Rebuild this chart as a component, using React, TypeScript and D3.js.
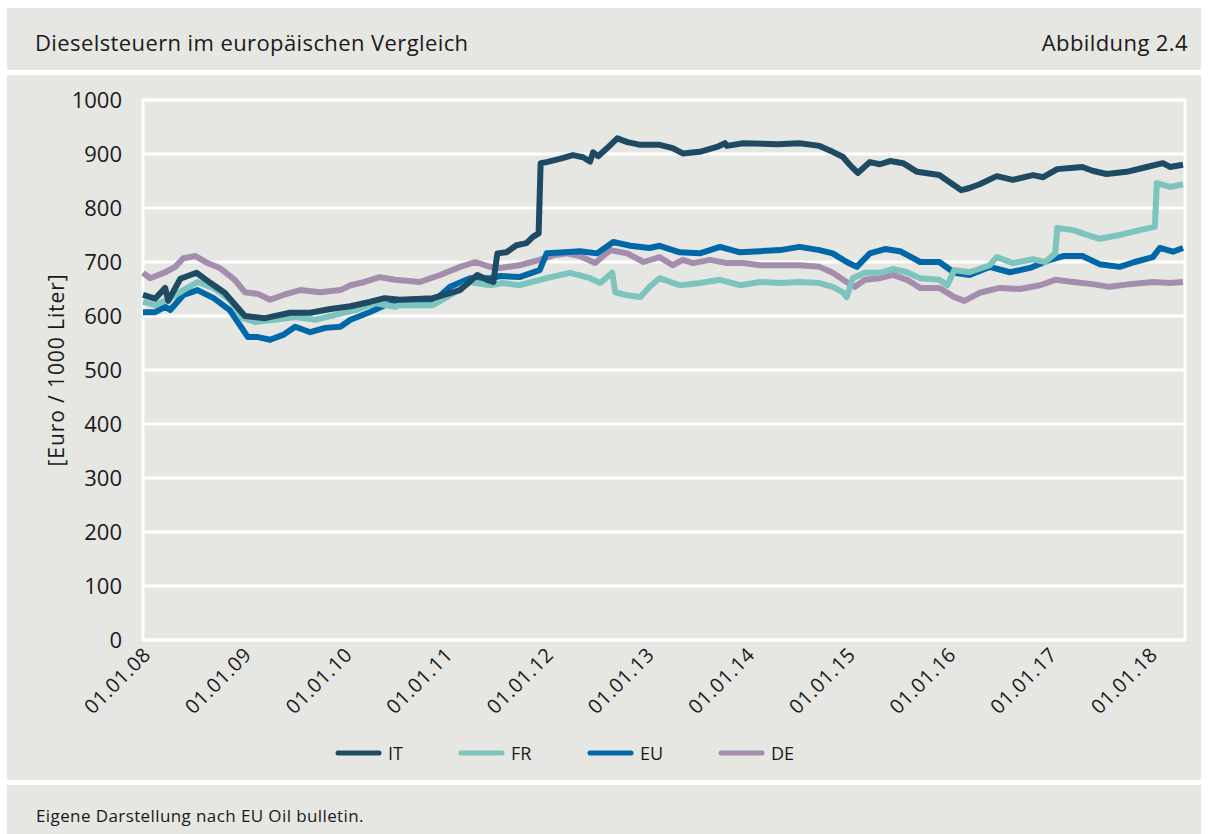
import React, { useEffect, useRef } from "react";
import * as d3 from "d3";

// decimal year, Euro / 1000 Liter
const itData: [number, number][] = [
  [2008.0, 639], [2008.12, 632], [2008.22, 652], [2008.25, 628], [2008.37, 669], [2008.53, 680],
  [2008.67, 661], [2008.81, 643], [2008.93, 617], [2009.01, 600], [2009.21, 596], [2009.46, 606],
  [2009.66, 606], [2009.86, 613], [2010.06, 618], [2010.25, 626], [2010.4, 633], [2010.55, 630],
  [2010.88, 633], [2011.15, 648], [2011.32, 676], [2011.42, 667], [2011.48, 663], [2011.52, 716],
  [2011.61, 718], [2011.71, 731], [2011.81, 735], [2011.87, 746], [2011.93, 753], [2011.95, 883],
  [2012.01, 885], [2012.14, 891], [2012.27, 898], [2012.37, 894], [2012.44, 886], [2012.47, 903],
  [2012.52, 896], [2012.61, 911], [2012.71, 929], [2012.81, 922], [2012.94, 917], [2013.13, 917],
  [2013.26, 911], [2013.36, 901], [2013.53, 904], [2013.7, 913], [2013.78, 920], [2013.8, 915],
  [2013.96, 920], [2014.3, 918], [2014.52, 920], [2014.72, 915], [2014.85, 904], [2014.95, 895],
  [2015.02, 880], [2015.1, 865], [2015.22, 885], [2015.32, 881], [2015.42, 887], [2015.55, 883],
  [2015.69, 867], [2015.91, 861], [2016.01, 848], [2016.13, 833], [2016.21, 837], [2016.31, 844],
  [2016.48, 859], [2016.64, 852], [2016.84, 861], [2016.94, 857], [2017.08, 872], [2017.21, 874],
  [2017.33, 876], [2017.43, 869], [2017.57, 863], [2017.77, 867], [2017.97, 876], [2018.13, 883],
  [2018.2, 876], [2018.33, 880]
];

const frData: [number, number][] = [
  [2008.0, 626], [2008.12, 620], [2008.27, 633], [2008.4, 648], [2008.54, 663], [2008.7, 652],
  [2008.86, 630], [2008.99, 596], [2009.11, 589], [2009.31, 593], [2009.51, 598], [2009.71, 593],
  [2009.91, 602], [2010.11, 611], [2010.3, 624], [2010.5, 617], [2010.55, 620], [2010.88, 620],
  [2011.08, 642], [2011.25, 663], [2011.45, 657], [2011.57, 661], [2011.74, 657], [2012.01, 670],
  [2012.24, 680], [2012.44, 670], [2012.54, 661], [2012.66, 680], [2012.69, 644], [2012.79, 639],
  [2012.94, 635], [2013.03, 654], [2013.13, 670], [2013.33, 657], [2013.53, 661], [2013.73, 667],
  [2013.93, 657], [2014.13, 663], [2014.33, 661], [2014.52, 663], [2014.72, 661], [2014.85, 654],
  [2014.95, 644], [2014.99, 635], [2015.05, 670], [2015.17, 680], [2015.32, 680], [2015.45, 687],
  [2015.59, 681], [2015.72, 670], [2015.91, 667], [2015.99, 657], [2016.06, 685], [2016.21, 681],
  [2016.41, 694], [2016.48, 709], [2016.64, 698], [2016.84, 705], [2016.96, 700], [2017.06, 716],
  [2017.08, 763], [2017.24, 759], [2017.33, 753], [2017.5, 743], [2017.7, 750], [2017.9, 759],
  [2018.05, 765], [2018.07, 846], [2018.2, 839], [2018.33, 844]
];

const euData: [number, number][] = [
  [2008.0, 607], [2008.12, 607], [2008.22, 617], [2008.27, 611], [2008.4, 639], [2008.54, 648],
  [2008.7, 633], [2008.86, 611], [2008.96, 583], [2009.04, 561], [2009.14, 561], [2009.26, 556],
  [2009.39, 565], [2009.51, 580], [2009.66, 570], [2009.81, 578], [2009.96, 580], [2010.06, 593],
  [2010.25, 607], [2010.4, 620], [2010.55, 624], [2010.88, 626], [2011.05, 654], [2011.25, 670],
  [2011.45, 670], [2011.55, 674], [2011.74, 672], [2011.94, 685], [2012.01, 716], [2012.19, 718],
  [2012.34, 720], [2012.51, 716], [2012.67, 737], [2012.84, 730], [2013.03, 726], [2013.13, 730],
  [2013.33, 718], [2013.53, 716], [2013.73, 728], [2013.93, 718], [2014.13, 720], [2014.33, 722],
  [2014.52, 728], [2014.72, 722], [2014.85, 716], [2014.99, 700], [2015.09, 691], [2015.22, 716],
  [2015.37, 724], [2015.52, 720], [2015.65, 707], [2015.72, 700], [2015.91, 700], [2016.06, 680],
  [2016.21, 676], [2016.41, 691], [2016.61, 681], [2016.81, 689], [2017.01, 704], [2017.14, 711],
  [2017.33, 711], [2017.5, 696], [2017.7, 691], [2017.85, 700], [2018.03, 709], [2018.1, 726],
  [2018.23, 719], [2018.33, 726]
];

const deData: [number, number][] = [
  [2008.0, 680], [2008.07, 670], [2008.22, 681], [2008.32, 691], [2008.4, 707], [2008.52, 711],
  [2008.64, 698], [2008.76, 689], [2008.91, 667], [2009.01, 644], [2009.14, 641], [2009.26, 630],
  [2009.39, 639], [2009.56, 648], [2009.76, 644], [2009.96, 648], [2010.06, 657], [2010.2, 663],
  [2010.35, 672], [2010.5, 667], [2010.75, 663], [2010.95, 676], [2011.15, 691], [2011.3, 700],
  [2011.45, 691], [2011.55, 689], [2011.74, 694], [2011.94, 704], [2012.09, 713], [2012.21, 716],
  [2012.34, 711], [2012.49, 698], [2012.64, 722], [2012.81, 716], [2012.97, 700], [2013.13, 709],
  [2013.26, 694], [2013.36, 704], [2013.46, 698], [2013.63, 704], [2013.8, 698], [2013.96, 698],
  [2014.13, 694], [2014.33, 694], [2014.52, 694], [2014.72, 691], [2014.85, 680], [2014.99, 663],
  [2015.07, 654], [2015.17, 667], [2015.32, 670], [2015.45, 676], [2015.59, 667], [2015.72, 652],
  [2015.91, 652], [2016.06, 635], [2016.16, 628], [2016.31, 643], [2016.51, 652], [2016.71, 650],
  [2016.91, 657], [2017.06, 667], [2017.24, 663], [2017.43, 659], [2017.6, 654], [2017.8, 659],
  [2018.03, 663], [2018.2, 661], [2018.33, 663]
];

const seriesNames = ["IT", "FR", "EU", "DE"];
const seriesColors = ["#1e4b63", "#7cc4bd", "#0068a9", "#a58ead"];
const seriesData = [itData, frData, euData, deData];
const yTicks = [0, 100, 200, 300, 400, 500, 600, 700, 800, 900, 1000];
const xStart = 2008;
const xEnd = 2018.35;

const title = "Dieselsteuern im europäischen Vergleich";
const figLabel = "Abbildung 2.4";
const yTitle = "[Euro / 1000 Liter]";
const source = "Eigene Darstellung nach EU Oil bulletin.";

const W = 1208,
  H = 834;
const bg = "#e6e6e2";
const ink = "#1a1a1a";
const font = "'Open Sans', sans-serif";
const plot = { left: 143, right: 1185, top: 100, bottom: 640 };

function toDate(y: number) {
  const yr = Math.floor(y);
  const start = Date.UTC(yr, 0, 1);
  const end = Date.UTC(yr + 1, 0, 1);
  return new Date(start + (y - yr) * (end - start));
}

export default function App() {
  const ref = useRef<SVGSVGElement>(null);

  useEffect(() => {
    const svg = d3.select(ref.current);
    svg.selectAll("*").remove();

    svg.append("rect").attr("width", W).attr("height", H).attr("fill", "#fff");
    svg.append("rect").attr("x", 7).attr("y", 8).attr("width", 1194).attr("height", 62).attr("fill", bg);
    svg.append("rect").attr("x", 7).attr("y", 75).attr("width", 1194).attr("height", 705).attr("fill", bg);
    svg.append("rect").attr("x", 7).attr("y", 785).attr("width", 1194).attr("height", 49).attr("fill", bg);

    svg.append("text").attr("x", 35).attr("y", 51).attr("font-size", 22).attr("letter-spacing", 0.4)
      .attr("font-family", font).attr("fill", ink).text(title);
    svg.append("text").attr("x", 1188).attr("y", 51).attr("font-size", 22).attr("letter-spacing", 0.4)
      .attr("font-family", font).attr("text-anchor", "end").attr("fill", ink).text(figLabel);
    svg.append("text").attr("x", 36).attr("y", 822).attr("font-size", 17).attr("letter-spacing", 0.4)
      .attr("font-family", font).attr("fill", ink).text(source);

    const x = d3.scaleUtc().domain([toDate(xStart), toDate(xEnd)]).range([plot.left, plot.right]);
    const y = d3.scaleLinear().domain([0, 1000]).range([plot.bottom, plot.top]);

    // grid
    const g = svg.append("g");
    g.selectAll(".grid").data(yTicks).enter().append("line")
      .attr("x1", plot.left).attr("x2", plot.right)
      .attr("y1", d => y(d)).attr("y2", d => y(d))
      .attr("stroke", "#fff").attr("stroke-width", 3);
    g.append("rect").attr("x", plot.left).attr("y", plot.top)
      .attr("width", plot.right - plot.left).attr("height", plot.bottom - plot.top)
      .attr("fill", "none").attr("stroke", "#fff").attr("stroke-width", 3);

    // y labels
    g.selectAll(".ylab").data(yTicks).enter().append("text")
      .attr("x", 122).attr("y", d => y(d)).attr("dy", "0.36em")
      .attr("text-anchor", "end").attr("font-size", 22).attr("font-family", font)
      .attr("fill", ink).text(d => d);

    svg.append("text").attr("transform", "translate(64," + (plot.top + plot.bottom) / 2 + ") rotate(-90)")
      .attr("text-anchor", "middle").attr("font-size", 21).attr("letter-spacing", 0.9)
      .attr("font-family", font).attr("fill", ink).text(yTitle);

    // x labels
    const xTicks = d3.utcYear.range(toDate(2008), toDate(2018.01));
    const fmt = d3.utcFormat("%d.%m.%y");
    g.selectAll(".xlab").data(xTicks).enter().append("text")
      .attr("transform", d => "translate(" + (x(d) + 9) + "," + 656 + ") rotate(-45)")
      .attr("text-anchor", "end").attr("font-size", 20).attr("letter-spacing", 0.6)
      .attr("font-family", font).attr("fill", ink).text(d => fmt(d));

    // lines
    const line = d3.line<[number, number]>()
      .x(d => x(toDate(d[0])))
      .y(d => y(d[1]));
    const order = [3, 2, 1, 0];
    svg.append("g").selectAll("path").data(order).enter().append("path")
      .attr("d", i => line(seriesData[i]))
      .attr("fill", "none")
      .attr("stroke", i => seriesColors[i])
      .attr("stroke-width", 6)
      .attr("stroke-linejoin", "round");

    // legend
    const legendX = [338, 461, 590, 721];
    const lg = svg.append("g").selectAll("g").data(seriesNames).enter().append("g")
      .attr("transform", (d, i) => "translate(" + legendX[i] + ",753)");
    lg.append("line").attr("x1", 0).attr("x2", 41)
      .attr("stroke", (d, i) => seriesColors[i]).attr("stroke-width", 5).attr("stroke-linecap", "round");
    lg.append("text").attr("x", 50).attr("y", 7).attr("font-size", 18).attr("font-family", font)
      .attr("fill", ink).text(d => d);
  }, []);

  return (
    <svg
      ref={ref}
      width={W}
      height={H}
      style={{ position: "absolute", left: 0, top: 0 }}
    />
  );
}
